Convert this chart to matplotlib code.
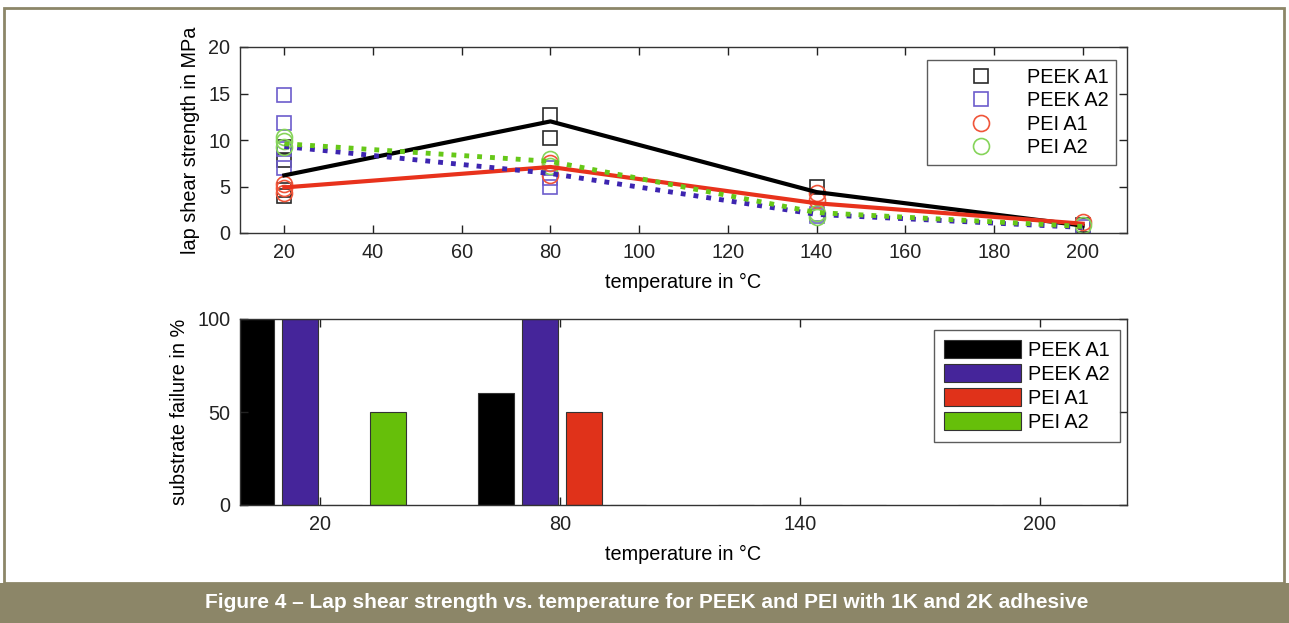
import numpy as np
import matplotlib
matplotlib.use("Agg")
from matplotlib import pyplot as plt
from matplotlib.patches import Rectangle

plt.rcParams['font.family'] = ['Liberation Sans', 'DejaVu Sans']

W, H = 1289, 623

# --- top plot data (single measurements and mean line) ---
temps = [20, 80, 140, 200]

peek_a1_x = [20, 20, 20, 20, 80, 80, 140, 200]
peek_a1_y = [4.0, 4.6, 7.8, 9.2, 12.7, 10.2, 5.0, 0.9]
peek_a2_x = [20, 20, 20, 20, 80, 80, 80, 140, 140, 200]
peek_a2_y = [14.8, 11.8, 7.0, 9.0, 7.0, 5.9, 5.0, 2.0, 1.8, 0.6]
pei_a1_x = [20, 20, 20, 80, 80, 140, 140, 200]
pei_a1_y = [5.3, 4.8, 4.3, 7.5, 6.2, 4.3, 3.5, 1.2]
pei_a2_x = [20, 20, 20, 80, 80, 140, 140, 200]
pei_a2_y = [10.3, 9.9, 9.2, 8.0, 7.2, 2.2, 1.7, 0.9]

peek_a1_mean = [6.2, 12.0, 4.4, 0.8]
peek_a2_mean = [9.3, 6.4, 2.0, 0.6]
pei_a1_mean = [4.9, 7.1, 3.2, 1.0]
pei_a2_mean = [9.6, 7.7, 2.2, 0.7]

# --- bottom plot data ---
bar_cats = ['20', '80', '140', '200']
fail_peek_a1 = [100, 60, 0, 0]
fail_peek_a2 = [100, 100, 0, 0]
fail_pei_a1 = [0, 50, 0, 0]
fail_pei_a2 = [50, 0, 0, 0]

names = ['PEEK A1', 'PEEK A2', 'PEI A1', 'PEI A2']


def ax_rect(x0, x1, y0, y1):
    return [x0 / W, 1 - y1 / H, (x1 - x0) / W, (y1 - y0) / H]


fig = plt.figure(figsize=(W / 100, H / 100), dpi=100)

# frame + caption bar
olive = '#8c8668'
fig.patches.append(Rectangle((4 / W, 1 - 583 / H), 1280 / W, 575 / H, transform=fig.transFigure,
                             fill=False, edgecolor=olive, lw=2))
fig.patches.append(Rectangle((0, 0), 1, 40 / H, transform=fig.transFigure,
                             facecolor=olive, edgecolor='none'))
fig.text(0.502, 1 - 603 / H,
         'Figure 4 \u2013 Lap shear strength vs. temperature for PEEK and PEI with 1K and 2K adhesive',
         color='white', fontweight='bold', fontsize=15, ha='center', va='center')

fs = 14.3

# ---------------- top ----------------
ax1 = fig.add_axes(ax_rect(240, 1127, 47, 233))
ax1.plot(peek_a1_x, peek_a1_y, 's', ms=10, mfc='none', mec='#2a2a2a', mew=1.2, label=names[0])
ax1.plot(peek_a2_x, peek_a2_y, 's', ms=10, mfc='none', mec='#6c5ccc', mew=1.2, label=names[1])
ax1.plot(pei_a1_x, pei_a1_y, 'o', ms=11.5, mfc='none', mec='#f0553a', mew=1.2, label=names[2])
ax1.plot(pei_a2_x, pei_a2_y, 'o', ms=11.5, mfc='none', mec='#86d45a', mew=1.2, label=names[3])

ax1.plot(temps, peek_a1_mean, '-', color='black', lw=3)
ax1.plot(temps, pei_a1_mean, '-', color='#e8321c', lw=3)
ax1.plot(temps, peek_a2_mean, ':', color='#3d25b0', lw=3.5)
ax1.plot(temps, pei_a2_mean, ':', color='#66c818', lw=3.5)

ax1.set_xlim(10, 210)
ax1.set_ylim(0, 20)
ax1.set_xticks(np.arange(20, 201, 20))
ax1.set_yticks([0, 5, 10, 15, 20])
ax1.set_xlabel('temperature in \u00b0C', fontsize=fs, labelpad=8)
ax1.set_ylabel('lap shear strength in MPa', fontsize=fs, labelpad=6)
leg1 = ax1.legend(loc='upper right', bbox_to_anchor=(0.988, 0.93), borderaxespad=0,
                  fontsize=fs, frameon=True, fancybox=False, edgecolor='#333333',
                  handletextpad=0.0, borderpad=0.4, labelspacing=0.22, handlelength=4.6)
leg1.get_frame().set_linewidth(1.0)

# ---------------- bottom ----------------
ax2 = fig.add_axes(ax_rect(240, 1127, 319, 505))
pos = np.arange(1, len(bar_cats) + 1)
offsets = [-0.267, -0.083, 0.1, 0.283]
bar_cols = ['#000000', '#45259a', '#e0321a', '#66bf0a']
series = [fail_peek_a1, fail_peek_a2, fail_pei_a1, fail_pei_a2]
for i in range(4):
    ax2.bar(pos + offsets[i], series[i], width=0.15, color=bar_cols[i],
            edgecolor='#333333', lw=0.8, label=names[i])
ax2.set_xlim(0.667, 4.363)
ax2.set_ylim(0, 100)
ax2.set_xticks(pos)
ax2.set_xticklabels(bar_cats)
ax2.set_yticks([0, 50, 100])
ax2.set_xlabel('temperature in \u00b0C', fontsize=fs, labelpad=8)
ax2.set_ylabel('substrate failure in %', fontsize=fs, labelpad=6)
leg2 = ax2.legend(loc='upper right', bbox_to_anchor=(0.992, 0.941), borderaxespad=0,
                  fontsize=fs, frameon=True, fancybox=False, edgecolor='#333333',
                  handletextpad=0.35, borderpad=0.5, labelspacing=0.22, handlelength=3.9,
                  handleheight=1.0)
leg2.get_frame().set_linewidth(1.0)

for ax in (ax1, ax2):
    ax.tick_params(direction='in', top=True, right=True, length=6, width=1,
                   labelsize=fs, colors='#222222', pad=7)
    for s in ax.spines.values():
        s.set_color('#333333')
        s.set_linewidth(1.0)

fig.savefig('out.png', dpi=100)
